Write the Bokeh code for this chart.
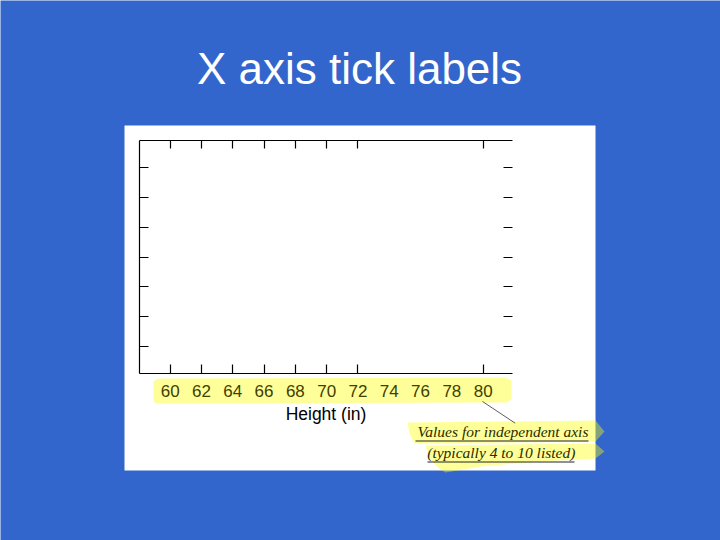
from bokeh.plotting import figure
from bokeh.models import Range1d, LinearAxis, FixedTicker
from bokeh.core.properties import value
from bokeh.embed import file_html
from bokeh.resources import INLINE

# ---------------- data ----------------
title_text = "X axis tick labels"
x_label = "Height (in)"
x_tick_labels = [60, 62, 64, 66, 68, 70, 72, 74, 76, 78, 80]
x_tick_marks = [60, 62, 64, 66, 68, 70, 72, 80]
y_tick_marks = [1, 2, 3, 4, 5, 6, 7]
x_bounds = (58.06, 81.9)
y_bounds = (0.08, 7.92)
note_lines = ["Values for independent axis", "(typically 4 to 10 listed)"]

# ---------------- layout helpers (page pixels -> data) ----------------
W, H = 720, 540
OFF = 0
PX_X = 15.65          # pixels per inch of height
PX_Y = 29.8           # pixels per y unit
X_ANCHOR_PAGE = 169.67  # page x of first x tick
Y_ANCHOR_PAGE = 346.0   # page y of first y tick

x_start = x_tick_marks[0] - (X_ANCHOR_PAGE - OFF) / PX_X
x_end = x_start + W / PX_X
y_end = y_tick_marks[0] + (Y_ANCHOR_PAGE - OFF) / PX_Y
y_start = y_end - H / PX_Y


def X(px):
    return x_start + (px - OFF) / PX_X


def Y(py):
    return y_end - (py - OFF) / PX_Y


BLUE = "#3366cc"
HILITE = "#ffff00"
OLIVE = "#404000"

p = figure(width=W, height=H,
           x_range=Range1d(x_start, x_end), y_range=Range1d(y_start, y_end),
           output_backend="svg", toolbar_location=None,
           x_axis_location=None, y_axis_location=None,
           min_border=0, background_fill_color=BLUE, border_fill_color=BLUE,
           outline_line_color=None)
p.grid.visible = False

# white slide panel
p.quad(left=[X(124)], right=[X(595)], top=[Y(125)], bottom=[Y(470)],
       fill_color="white", line_color=None)

# highlighter band behind the tick labels
band_px = [157, 505, 511, 511, 506, 155, 153, 153]
band_py = [378, 377, 380, 399, 402, 403, 400, 381]
p.patch([X(v) for v in band_px], [Y(v) for v in band_py],
        fill_color=HILITE, fill_alpha=0.4, line_color=None)

# highlighter strokes behind the note
h1_px = [407, 595, 604, 595, 414, 409]
h1_py = [422, 420, 431, 441, 443, 433]
h2_px = [425, 595, 604, 595, 540, 480, 445, 437, 429]
h2_py = [445, 443, 451, 458, 461, 466, 472, 467, 457]
p.patches([[X(v) for v in h1_px], [X(v) for v in h2_px]],
          [[Y(v) for v in h1_py], [Y(v) for v in h2_py]],
          fill_color=HILITE, fill_alpha=0.4, line_color=None)

# title
p.text(x=[X(359)], y=[Y(67.5)], text=[title_text],
       text_align="center", text_baseline="alphabetic",
       text_font=value("Liberation Sans"), text_font_size=value("44px"),
       text_color="white")

# note text
p.text(x=[X(502.5), X(500.8)], y=[Y(431), Y(451.5)], text=note_lines,
       text_align="center", text_baseline="alphabetic",
       text_font=value("Liberation Serif"), text_font_style="italic",
       text_font_size=value("15.5px"), text_color="#2b2b00")
p.segment(x0=[X(415), X(427)], y0=[Y(440.5), Y(461.5)],
          x1=[X(588), X(574)], y1=[Y(440.5), Y(461.5)],
          line_color="#222222", line_width=1)
# leader line
p.segment(x0=[X(482)], y0=[Y(401)], x1=[X(514.7)], y1=[Y(422.7)],
          line_color="#333333", line_width=0.8)

LW = 1.2
TICK = 9

# bottom axis: labels at every value, tick marks at a subset
xb = LinearAxis(fixed_location=y_bounds[0], bounds=x_bounds,
                ticker=FixedTicker(ticks=x_tick_labels, minor_ticks=x_tick_marks),
                axis_label=x_label,
                axis_label_text_font="Liberation Sans",
                axis_label_text_font_size="17.5px",
                axis_label_text_font_style="normal",
                axis_label_text_color="black",
                axis_label_standoff=4,
                major_label_text_font="Liberation Sans",
                major_label_text_font_size="17px",
                major_label_text_color=OLIVE,
                major_label_standoff=11,
                major_tick_line_color=None, major_tick_in=0, major_tick_out=0,
                minor_tick_in=TICK, minor_tick_out=0,
                minor_tick_line_color="black", minor_tick_line_width=LW,
                axis_line_color="black", axis_line_width=LW)
p.add_layout(xb, "below")

xt = LinearAxis(fixed_location=y_bounds[1], bounds=x_bounds,
                ticker=FixedTicker(ticks=[], minor_ticks=x_tick_marks),
                major_tick_in=0, major_tick_out=0,
                minor_tick_in=TICK - 1, minor_tick_out=0,
                minor_tick_line_color="black", minor_tick_line_width=LW,
                axis_line_color="black", axis_line_width=LW)
p.add_layout(xt, "above")

yl = LinearAxis(fixed_location=x_bounds[0], bounds=y_bounds,
                ticker=FixedTicker(ticks=[], minor_ticks=y_tick_marks),
                major_tick_in=0, major_tick_out=0,
                minor_tick_in=TICK, minor_tick_out=0,
                minor_tick_line_color="black", minor_tick_line_width=LW,
                axis_line_color="black", axis_line_width=LW)
p.add_layout(yl, "left")

yr = LinearAxis(fixed_location=x_bounds[1], bounds=y_bounds,
                ticker=FixedTicker(ticks=[], minor_ticks=y_tick_marks),
                major_tick_in=0, major_tick_out=0,
                minor_tick_in=TICK, minor_tick_out=0,
                minor_tick_line_color="black", minor_tick_line_width=LW,
                axis_line_color=None)
p.add_layout(yr, "right")

open("out.html", "w").write(file_html(p, INLINE))
